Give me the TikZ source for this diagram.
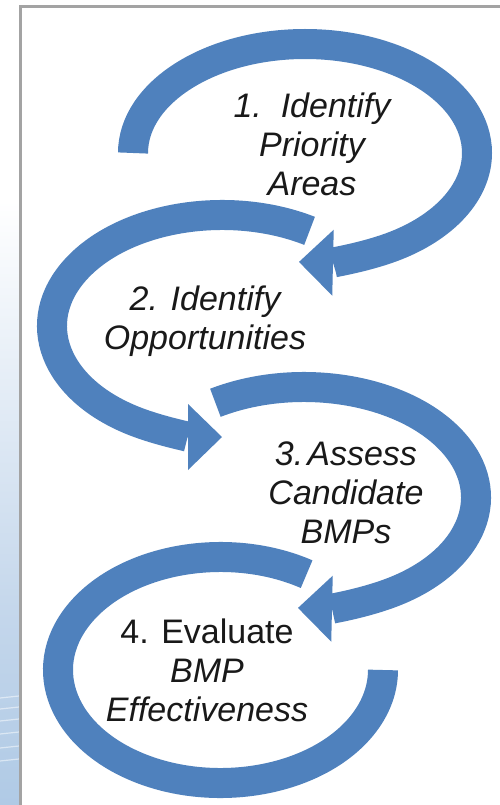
\documentclass[tikz,border=0pt]{standalone}
\usepackage{fontspec}
\setmainfont{Liberation Sans}
\usetikzlibrary{positioning, arrows.meta}
\definecolor{bandblue}{HTML}{4F81BD}
\definecolor{framegray}{HTML}{A3A3A3}
\definecolor{seablue}{HTML}{C3D6EB}
\definecolor{deepsea}{HTML}{93B8DD}
\tikzset{
  steptext/.style={align=center, text=black!90,
    font=\fontsize{34}{39}\selectfont\itshape},
  band/.style={draw=bandblue, line width=30pt},
}

\begin{document}
\begin{tikzpicture}[x=1pt, y=1pt, on grid,
    >={Triangle[width=66pt,length=34pt,line width=0pt]}]
  \useasboundingbox (0,0) rectangle (500,-805);
  \fill[white] (0,0) rectangle (500,-805);

  % water strip left of the frame
  \shade[top color=white, bottom color=seablue] (0,-200) rectangle (19,-620);
  \shade[top color=seablue, middle color=deepsea, bottom color=seablue!60!deepsea]
    (0,-620) rectangle (19,-805);
  \foreach \y in {698,709,721,734,748,761}
    \draw[white, opacity=.5, line width=1.2pt] (0,-\y) -- (19,-\y+2);

  % frame
  \draw[framegray, line width=3pt] (20.5,-805) |- (500,-6.5);

  % steps
  \node[steptext] (s1) at (312,-144) {1.\ \ Identify\\Priority\\Areas};
  \node[steptext] (s2) [below left=177pt and 107pt of s1] {2. Identify\\Opportunities};
  \node[steptext] (s3) [below right=172pt and 141pt of s2] {3.\hspace{.12em}Assess\\Candidate\\BMPs};
  \node[steptext] (s4) [below left=177pt and 139pt of s3] {{\upshape 4. Evaluate}\\BMP\\Effectiveness};

  % ring centres
  \coordinate (c1) at (305,-153);
  \coordinate (c2) at (222,-326);
  \coordinate (c3) at (304,-497.5);
  \coordinate (c4) at (220.5,-670);

  % rings
  \draw[band] (c4) ++(58:162.5 and 113)
    arc[start angle=58, end angle=360, x radius=162.5, y radius=113];
  \draw[band, ->] (c3) ++(121:172 and 110.5)
    arc[start angle=121, end angle=-92, x radius=172, y radius=110.5];
  \draw[band, ->] (c2) ++(59:170 and 111)
    arc[start angle=59, end angle=270, x radius=170, y radius=111];
  \draw[band, ->] (c1) ++(180:172 and 109)
    arc[start angle=180, end angle=-92, x radius=172, y radius=109];
\end{tikzpicture}
\end{document}
